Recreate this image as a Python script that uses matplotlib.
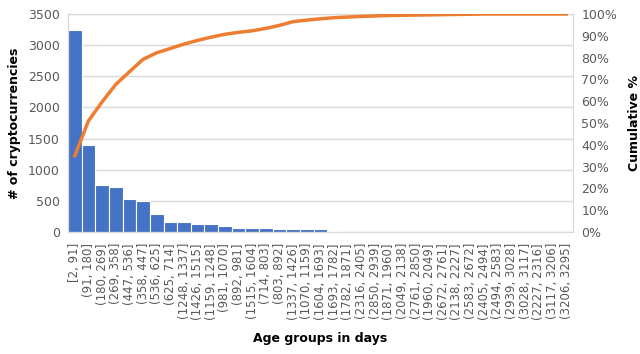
import matplotlib
matplotlib.use('Agg')
import matplotlib.pyplot as plt
from matplotlib.ticker import PercentFormatter

# age groups (days), in the order shown (sorted by count)
age_groups = ['[2, 91]', '(91, 180]', '(180, 269]', '(269, 358]', '(447, 536]',
              '(358, 447]', '(536, 625]', '(625, 714]', '(1248, 1337]',
              '(1426, 1515]', '(1159, 1248]', '(981, 1070]', '(892, 981]',
              '(1515, 1604]', '(714, 803]', '(803, 892]', '(1337, 1426]',
              '(1070, 1159]', '(1604, 1693]', '(1693, 1782]', '(1782, 1871]',
              '(2316, 2405]', '(2850, 2939]', '(1871, 1960]', '(2049, 2138]',
              '(2761, 2850]', '(1960, 2049]', '(2672, 2761]', '(2138, 2227]',
              '(2583, 2672]', '(2405, 2494]', '(2494, 2583]', '(2939, 3028]',
              '(3028, 3117]', '(2227, 2316]', '(3117, 3206]', '(3206, 3295]']

counts = [3240, 1400, 750, 723, 536, 493, 284, 160, 160, 135, 135, 91, 71,
          71, 71, 55, 55, 55, 43, 22, 8, 7, 6, 5, 5, 4, 4, 3, 3, 2,
          0, 0, 0, 0, 0, 0, 0]

cumulative = [35, 51, 59.7, 67.7, 73.5, 79.2, 82.2, 84.2, 86.2, 87.9, 89.4,
              90.7, 91.6, 92.3, 93.4, 94.8, 96.5, 97.2, 97.8, 98.3, 98.6,
              98.9, 99.1, 99.3, 99.4, 99.5, 99.6, 99.7, 99.8, 99.9, 100,
              100, 100, 100, 100, 100, 100]

BLUE = '#4472C4'
ORANGE = '#ED7D31'
GRID = '#D9D9D9'
TXT = '#595959'

fig = plt.figure(figsize=(6.4, 3.54), dpi=100)
ax = fig.add_axes([68 / 640, 1 - 232 / 354, 505 / 640, 218 / 354])

x = range(len(age_groups))
ax.bar(x, counts, width=1.0, color=BLUE, edgecolor='white', linewidth=0.8,
       zorder=2)
ax.set_xlim(-0.5, len(age_groups) - 0.5)
ax.set_ylim(0, 3500)
ax.set_yticks(range(0, 3501, 500))
ax.grid(axis='y', color=GRID, linewidth=1, zorder=0)
ax.set_xticks(list(x))
ax.set_xticklabels(age_groups, rotation=90, fontsize=8.5, color=TXT)
ax.tick_params(axis='x', length=0, pad=8)
ax.tick_params(axis='y', length=0, labelsize=9, labelcolor=TXT, pad=6)
for s in ax.spines.values():
    s.set_color(GRID)
ax.set_ylabel('# of cryptocurrencies', fontsize=9, fontweight='bold',
              labelpad=5)
ax.set_xlabel('Age groups in days', fontsize=9, fontweight='bold',
              labelpad=9)

ax2 = ax.twinx()
ax2.plot(list(x), cumulative, color=ORANGE, linewidth=2.5, zorder=3)
ax2.set_ylim(0, 100)
ax2.set_yticks(range(0, 101, 10))
ax2.yaxis.set_major_formatter(PercentFormatter(decimals=0))
ax2.tick_params(axis='y', length=0, labelsize=9, labelcolor=TXT, pad=6)
for s in ax2.spines.values():
    s.set_color(GRID)
ax2.set_ylabel('Cumulative %', fontsize=9, fontweight='bold', labelpad=8)

fig.savefig('out.png', dpi=100)
